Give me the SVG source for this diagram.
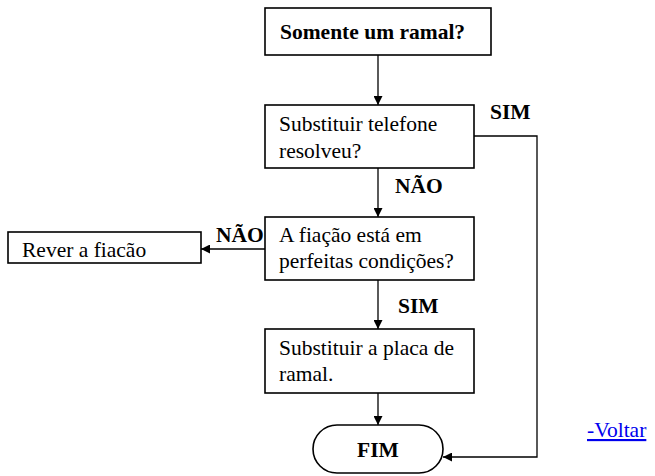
<svg xmlns="http://www.w3.org/2000/svg" width="655" height="476" viewBox="0 0 655 476">
<style>
.b { font-weight: bold; }
.n { fill: #fff; stroke: #000; stroke-width: 1.6; }
.c { fill: none; stroke: #000; stroke-width: 1.3; }
.link { fill: #0000ee; text-decoration: underline; }
</style>
<defs>
<marker id="ah" viewBox="0 0 10 10" refX="10" refY="5" markerWidth="9" markerHeight="9" markerUnits="userSpaceOnUse" orient="auto">
<path d="M0,0 L10,5 L0,10 z" fill="#000"/>
</marker>
</defs>
<rect width="655" height="476" fill="#fff"/>
<g id="connectors">
<line class="c" x1="378" y1="55" x2="378" y2="105" marker-end="url(#ah)"/>
<polyline class="c" points="474,136 537,136 537,457 443,457" marker-end="url(#ah)"/>
<line class="c" x1="378" y1="168" x2="378" y2="217" marker-end="url(#ah)"/>
<line class="c" x1="265" y1="249" x2="201" y2="249" marker-end="url(#ah)"/>
<line class="c" x1="378" y1="280" x2="378" y2="329" marker-end="url(#ah)"/>
<line class="c" x1="378" y1="393" x2="378" y2="425" marker-end="url(#ah)"/>
<text class="b" font-family="Liberation Serif" font-size="21.5" x="490" y="119">SIM</text>
<text class="b" font-family="Liberation Serif" font-size="21.5" x="395" y="193">NÃO</text>
<text class="b" font-family="Liberation Serif" font-size="21.5" x="216" y="242">NÃO</text>
<text class="b" font-family="Liberation Serif" font-size="21.5" x="398" y="313">SIM</text>
</g>
<g id="n1">
<rect class="n" x="265" y="8" width="226" height="47"/>
<text class="b" font-family="Liberation Serif" font-size="21.5" x="280" y="39">Somente um ramal?</text>
</g>
<g id="n2">
<rect class="n" x="265" y="105" width="209" height="63"/>
<text font-family="Liberation Serif" font-size="21.5" x="279" y="131">Substituir telefone</text>
<text font-family="Liberation Serif" font-size="21.5" x="279" y="158">resolveu?</text>
</g>
<g id="n3">
<rect class="n" x="265" y="217" width="209" height="63"/>
<text font-family="Liberation Serif" font-size="21.5" x="279" y="242">A fiação está em</text>
<text font-family="Liberation Serif" font-size="21.5" x="279" y="268">perfeitas condições?</text>
</g>
<g id="n4">
<rect class="n" x="8" y="232" width="193" height="31"/>
<text font-family="Liberation Serif" font-size="21.5" x="22" y="257">Rever a fiacão</text>
</g>
<g id="n5">
<rect class="n" x="265" y="329" width="209" height="64"/>
<text font-family="Liberation Serif" font-size="21.5" x="279" y="355">Substituir a placa de</text>
<text font-family="Liberation Serif" font-size="21.5" x="279" y="381">ramal.</text>
</g>
<g id="n6">
<rect class="n" x="313" y="425" width="130" height="48" rx="24" ry="24"/>
<text class="b" font-family="Liberation Serif" font-size="21.5" x="378" y="457" text-anchor="middle">FIM</text>
</g>
<text class="link" font-family="Liberation Serif" font-size="21.5" x="587" y="437">-Voltar</text>
</svg>
